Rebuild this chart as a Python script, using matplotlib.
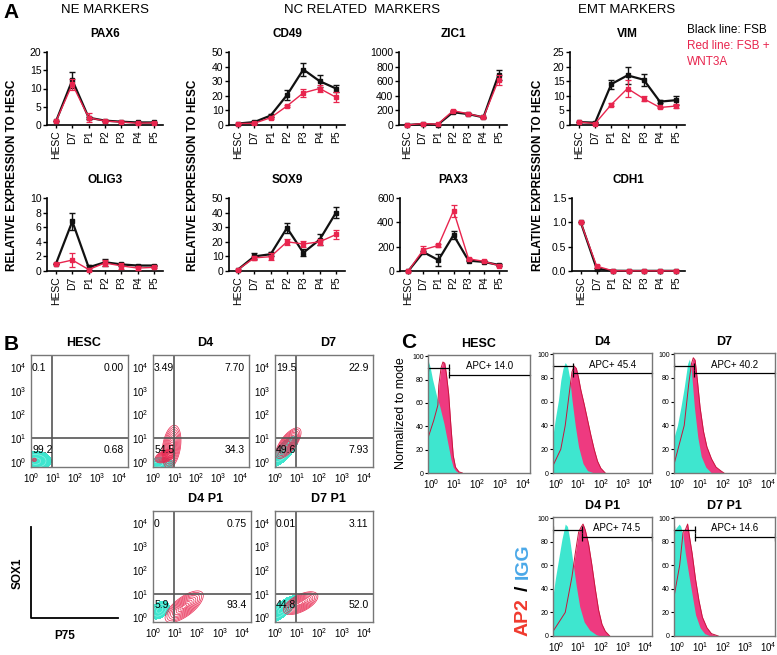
#------------------------------------------------------------------------------
#
# Re-drawing of a three panel figure: qPCR time courses (A), SOX1/P75 flow
# plots (B) and AP2/IGG histograms (C)
#
#------------------------------------------------------------------------------

import matplotlib.pyplot as plt
import numpy as np

plt.rcParams['font.family'] = ['Liberation Sans', 'DejaVu Sans']
plt.rcParams['mathtext.fontset'] = 'custom'
plt.rcParams['mathtext.rm'] = 'Liberation Sans'

W, H = 777, 655

BLACK = '#111111'
RED = '#e8254e'
CYAN = '#3ee6cf'
PINK = '#ee3a80'

#------------------------------------------------------------------------------
# Panel A data (relative expression to HESC)
#------------------------------------------------------------------------------
stages = ['HESC', 'D7', 'P1', 'P2', 'P3', 'P4', 'P5']

pax6_fsb = [1, 12.3, 2.0, 1.2, 0.9, 0.7, 0.7]
pax6_fsb_err = [0, 2.1, 0.3, 0.15, 0.1, 0.1, 0.1]
pax6_wnt = [1, 11.2, 2.0, 1.1, 0.8, 0.5, 0.6]
pax6_wnt_err = [0, 1.5, 1.3, 0.15, 0.1, 0.15, 0.15]

olig3_fsb = [1, 6.8, 0.5, 1.2, 0.9, 0.75, 0.75]
olig3_fsb_err = [0, 1.2, 0.3, 0.5, 0.2, 0.1, 0.1]
olig3_wnt = [1, 1.5, 0.2, 1.1, 0.7, 0.4, 0.5]
olig3_wnt_err = [0.05, 1.0, 0.2, 0.35, 0.4, 0.3, 0.15]

cd49_fsb = [1, 2.0, 6.5, 20.5, 38, 30, 25]
cd49_fsb_err = [0, 0.5, 1.0, 3.5, 4.5, 4.0, 2.5]
cd49_wnt = [1, 1.2, 5.0, 13, 22, 25, 19]
cd49_wnt_err = [0, 0.3, 0.8, 1.0, 2.5, 2.5, 3.5]

sox9_fsb = [1, 10, 11.5, 29.5, 12.5, 21.5, 40]
sox9_fsb_err = [0, 2, 1.5, 3.5, 2.3, 3.5, 4]
sox9_wnt = [1, 9, 9.8, 20, 18.5, 20, 25]
sox9_wnt_err = [0, 1.5, 2.2, 2.2, 2.2, 2.2, 2.8]

zic1_fsb = [0, 15, 5, 175, 150, 105, 690]
zic1_fsb_err = [0, 5, 3, 15, 10, 8, 70]
zic1_wnt = [0, 20, 10, 195, 155, 105, 620]
zic1_wnt_err = [0, 5, 3, 10, 10, 8, 68]

pax3_fsb = [0, 155, 90, 295, 85, 75, 50]
pax3_fsb_err = [0, 10, 50, 33, 5, 5, 8]
pax3_wnt = [0, 175, 210, 495, 100, 80, 45]
pax3_wnt_err = [0, 30, 12, 50, 10, 8, 8]

vim_fsb = [1, 0.8, 14, 17, 15.5, 8, 8.5]
vim_fsb_err = [0, 0.1, 1.5, 2.8, 2.0, 0.6, 1.5]
vim_wnt = [1, 0.5, 7, 12.5, 9, 6, 6.5]
vim_wnt_err = [0, 0.1, 0.4, 2.8, 0.9, 0.3, 0.7]

cdh1_fsb = [1, 0.05, 0.005, 0.003, 0.003, 0.003, 0.003]
cdh1_fsb_err = [0, 0.02, 0, 0, 0, 0, 0]
cdh1_wnt = [1, 0.1, 0.005, 0.003, 0.003, 0.003, 0.003]
cdh1_wnt_err = [0, 0.03, 0, 0, 0, 0, 0]

#------------------------------------------------------------------------------
# Panel B data: quadrant percentages and populations (in log10 decades)
#------------------------------------------------------------------------------
flow_samples = ['HESC', 'D4', 'D7', 'D4 P1', 'D7 P1']
flow_quadrants = [['0.1', '0.00', '99.2', '0.68'],
                  ['3.49', '7.70', '54.5', '34.3'],
                  ['19.5', '22.9', '49.6', '7.93'],
                  ['0', '0.75', '5.9', '93.4'],
                  ['0.01', '3.11', '44.8', '52.0']]
# centre x, centre y, major spread, minor spread, angle (deg)
igg_pops = [(0.2, 0.05, 0.3, 0.17, 0),
            (0.2, -0.1, 0.3, 0.12, 5),
            (0.4, 0.45, 0.35, 0.13, 45),
            (0.3, 0.3, 0.2, 0.13, 35),
            (0.35, 0.35, 0.33, 0.12, 40)]
stain_pops = [[(0.15, 0.1, 0.04, 0.03, 0)],
              [(0.85, 0.65, 0.38, 0.17, 80), (0.55, 0.25, 0.2, 0.1, 20)],
              [(0.6, 0.8, 0.33, 0.14, 50)],
              [(1.4, 0.45, 0.42, 0.17, 35)],
              [(1.15, 0.6, 0.35, 0.15, 25)]]

#------------------------------------------------------------------------------
# Panel C data: histograms (x in log10 decades, y % of mode)
#------------------------------------------------------------------------------
hist_samples = ['HESC', 'D4', 'D7', 'D4 P1', 'D7 P1']
apc_labels = ['APC+ 14.0', 'APC+ 45.4', 'APC+ 40.2', 'APC+ 74.5', 'APC+ 14.6']
gate_split = [0.75, 0.73, 0.75, 1.15, 0.76]

igg_x = [[-0.15, -0.05, 0.05, 0.15, 0.25, 0.35, 0.45, 0.55, 0.65, 0.75, 0.85, 0.95, 1.05, 1.2],
         [-0.18, -0.05, 0.1, 0.2, 0.3, 0.4, 0.5, 0.6, 0.7, 0.85, 1.0, 1.2, 1.4, 1.7],
         [-0.18, 0.0, 0.15, 0.3, 0.45, 0.53, 0.62, 0.75, 0.9, 1.05, 1.25, 1.5],
         [-0.18, -0.05, 0.1, 0.25, 0.4, 0.5, 0.6, 0.75, 0.9, 1.05, 1.25, 1.5, 1.8, 2.0],
         [-0.18, -0.05, 0.08, 0.15, 0.25, 0.35, 0.5, 0.65, 0.8, 1.0, 1.2, 1.45]]
igg_y = [[97, 90, 80, 72, 64, 58, 50, 42, 32, 22, 12, 5, 2, 0],
         [28, 45, 62, 78, 88, 93, 90, 80, 62, 40, 22, 8, 2, 0],
         [28, 40, 55, 72, 92, 96, 85, 55, 30, 14, 5, 0],
         [30, 48, 65, 82, 95, 93, 82, 62, 42, 25, 12, 5, 1, 0],
         [88, 92, 95, 93, 85, 70, 52, 35, 18, 7, 2, 0]]
ap2_x = [[-0.15, 0.1, 0.28, 0.32, 0.42, 0.5, 0.58, 0.65, 0.75, 0.85, 0.95, 1.05, 1.2, 1.35],
         [-0.18, 0.2, 0.4, 0.6, 0.7, 0.8, 0.9, 1.0, 1.1, 1.25, 1.4, 1.55, 1.7, 1.85, 2.0, 2.2],
         [-0.18, 0.3, 0.5, 0.62, 0.7, 0.78, 0.88, 1.0, 1.15, 1.3, 1.5, 1.7, 1.9, 2.05],
         [-0.18, 0.4, 0.7, 0.85, 1.0, 1.1, 1.2, 1.3, 1.45, 1.6, 1.75, 1.9, 2.05, 2.2, 2.4],
         [-0.18, 0.1, 0.25, 0.35, 0.45, 0.55, 0.65, 0.8, 0.95, 1.1, 1.3, 1.5, 1.8]]
ap2_y = [[30, 45, 58, 75, 90, 95, 94, 85, 68, 40, 15, 5, 1, 0],
         [5, 20, 40, 70, 85, 90, 88, 80, 70, 58, 45, 32, 20, 10, 4, 0],
         [5, 40, 75, 92, 97, 95, 78, 55, 35, 22, 12, 5, 2, 0],
         [3, 20, 50, 70, 88, 92, 95, 90, 78, 60, 40, 22, 10, 4, 0],
         [30, 60, 88, 90, 95, 82, 70, 48, 30, 16, 7, 2, 0]]


#------------------------------------------------------------------------------
def add_ax(fig, left, top, right, bottom):
    # axes placed by pixel box (left, top, right, bottom)
    return fig.add_axes([left / W, 1 - bottom / H, (right - left) / W, (bottom - top) / H])


def ftext(fig, x, y, s, **kw):
    fig.text(x / W, 1 - y / H, s, **kw)


#------------------------------------------------------------------------------
def draw_line_panel(ax, fsb, fsb_err, wnt, wnt_err, ymax, yticks, fmt=None):
    x = np.arange(len(stages))
    ax.errorbar(x, fsb, yerr=fsb_err, color=BLACK, lw=1.6, marker='s', ms=3,
                capsize=2, elinewidth=1.0, capthick=1.0, zorder=3, clip_on=False)
    ax.errorbar(x, wnt, yerr=wnt_err, color=RED, lw=1.0, marker='s', ms=3,
                capsize=2, elinewidth=0.9, capthick=0.9, zorder=4, clip_on=False)
    ax.set_xlim(-0.55, 6.55)
    ax.set_ylim(0, ymax)
    ax.set_xticks(x)
    ax.set_xticklabels(stages, rotation=90, fontsize=7.5)
    ax.set_yticks(yticks)
    if fmt:
        ax.set_yticklabels([fmt.format(v) for v in yticks])
    ax.tick_params(axis='y', labelsize=7.5, length=3, width=1, pad=1)
    ax.tick_params(axis='x', length=2.5, width=1, pad=1.5)
    for side in ['top', 'right']:
        ax.spines[side].set_visible(False)
    for side in ['left', 'bottom']:
        ax.spines[side].set_linewidth(1.2)


#------------------------------------------------------------------------------
def draw_population(ax, pop, color, filled, n_levels=10):
    cx, cy, s_major, s_minor, angle = pop
    gx, gy = np.meshgrid(np.linspace(-1, 5, 300), np.linspace(-1, 5, 300))
    a = np.deg2rad(angle)
    dx, dy = gx - cx, gy - cy
    u = (dx * np.cos(a) + dy * np.sin(a)) / s_major
    v = (-dx * np.sin(a) + dy * np.cos(a)) / s_minor
    r = np.sqrt(u ** 2 + v ** 2)
    if filled:
        ax.contourf(gx, gy, r, levels=[0, 2.4], colors=[color])
        ax.contour(gx, gy, r, levels=[0.8, 1.6], colors='#9ff3e6', linewidths=0.4)
    else:
        ax.contour(gx, gy, r, levels=np.linspace(0.3, 2.4, n_levels), colors=color,
                   linewidths=0.5)


def draw_flow_panel(ax, i):
    draw_population(ax, igg_pops[i], CYAN, True)
    for pop in stain_pops[i]:
        # HESC barely has any stained events
        draw_population(ax, pop, RED, False, 3 if i == 0 else 10)
    ax.set_xlim(0, 4.4)
    ax.set_ylim(-0.2, 4.5)
    ax.axvline(0.95, color='#555555', lw=1.2)
    ax.axhline(1.0, color='#555555', lw=1.2)
    dec = [0, 1, 2, 3, 4]
    labels = [f'$10^{{{d}}}$' for d in dec]
    ax.set_xticks(dec)
    ax.set_xticklabels(labels)
    ax.set_yticks(dec)
    ax.set_yticklabels(labels)
    ax.tick_params(length=0, labelsize=7, pad=3)
    for sp in ax.spines.values():
        sp.set_color('#777777')
        sp.set_linewidth(1.0)
    q = flow_quadrants[i]
    ax.text(0.05, 3.95, q[0], fontsize=7.5, ha='left', va='center')
    ax.text(4.2, 3.95, q[1], fontsize=7.5, ha='right', va='center')
    ax.text(0.05, 0.5, q[2], fontsize=7.5, ha='left', va='center')
    ax.text(4.2, 0.5, q[3], fontsize=7.5, ha='right', va='center')


#------------------------------------------------------------------------------
def draw_hist_panel(ax, i):
    ax.fill_between(ap2_x[i], ap2_y[i], 0, color=PINK, lw=0)
    ax.plot(ap2_x[i], ap2_y[i], color='#c8143c', lw=0.7)
    ax.fill_between(igg_x[i], igg_y[i], 0, color=CYAN, lw=0)
    x0, x1 = -0.15, 4.3
    ax.set_xlim(x0, x1)
    ax.set_ylim(0, 101)
    # gate bars
    s = gate_split[i]
    ax.plot([x0, s], [90, 90], color='black', lw=0.9, clip_on=False)
    ax.vlines([x0 + 0.02, s], 87, 93, color='black', lw=0.9)
    ax.plot([s, x1], [84, 84], color='black', lw=0.9, clip_on=False)
    ax.vlines([s, x1 - 0.02], 81, 87, color='black', lw=0.9)
    ax.text((s + x1) / 2, 87, apc_labels[i], fontsize=7, ha='center', va='bottom')
    dec = [0, 1, 2, 3, 4]
    ax.set_xticks(dec)
    ax.set_xticklabels([f'$10^{{{d}}}$' for d in dec])
    ax.set_yticks([0, 20, 40, 60, 80, 100])
    ax.tick_params(axis='x', length=0, labelsize=7, pad=3)
    ax.tick_params(axis='y', length=2, labelsize=5, pad=1)
    for sp in ax.spines.values():
        sp.set_color('#777777')
        sp.set_linewidth(1.0)


#------------------------------------------------------------------------------
def main() -> None:
    fig = plt.figure(figsize=(W / 100, H / 100), dpi=100)

    # ---------------- Panel A ----------------
    ftext(fig, 11, 13, 'A', fontsize=15, fontweight='bold', ha='center', va='center')
    ftext(fig, 105, 10, 'NE MARKERS', fontsize=9.5, ha='center', va='center')
    ftext(fig, 362, 10, 'NC RELATED  MARKERS', fontsize=9.5, ha='center', va='center')
    ftext(fig, 627, 10, 'EMT MARKERS', fontsize=9.5, ha='center', va='center')
    ftext(fig, 687, 30, 'Black line: FSB', fontsize=8.5, color='black', va='center')
    ftext(fig, 687, 46, 'Red line: FSB +', fontsize=8.5, color=RED, va='center')
    ftext(fig, 687, 62, 'WNT3A', fontsize=8.5, color=RED, va='center')

    for x in [12, 193, 538]:
        ftext(fig, x, 175, 'RELATIVE EXPRESSION TO HESC', fontsize=8.5,
              fontweight='bold', rotation=90, ha='center', va='center')

    panels = [
        ('PAX6', (47, 52, 163, 125), pax6_fsb, pax6_fsb_err, pax6_wnt, pax6_wnt_err, 20, range(0, 21, 5), None),
        ('CD49', (229, 52, 345, 125), cd49_fsb, cd49_fsb_err, cd49_wnt, cd49_wnt_err, 50, range(0, 51, 10), None),
        ('ZIC1', (399, 52, 507, 125), zic1_fsb, zic1_fsb_err, zic1_wnt, zic1_wnt_err, 1000, range(0, 1001, 200), None),
        ('VIM', (570, 52, 685, 125), vim_fsb, vim_fsb_err, vim_wnt, vim_wnt_err, 25, range(0, 26, 5), None),
        ('OLIG3', (47, 198, 163, 271), olig3_fsb, olig3_fsb_err, olig3_wnt, olig3_wnt_err, 10, range(0, 11, 2), None),
        ('SOX9', (229, 198, 345, 271), sox9_fsb, sox9_fsb_err, sox9_wnt, sox9_wnt_err, 50, range(0, 51, 10), None),
        ('PAX3', (400, 198, 507, 271), pax3_fsb, pax3_fsb_err, pax3_wnt, pax3_wnt_err, 600, range(0, 601, 200), None),
        ('CDH1', (572, 198, 685, 271), cdh1_fsb, cdh1_fsb_err, cdh1_wnt, cdh1_wnt_err, 1.5, [0, 0.5, 1.0, 1.5], '{:.1f}'),
    ]
    for name, box, f, fe, w, we, ymax, yt, fmt in panels:
        ax = add_ax(fig, *box)
        draw_line_panel(ax, f, fe, w, we, ymax, list(yt), fmt)
        ftext(fig, (box[0] + box[2]) / 2, box[1] - 18, name, fontsize=8.5,
              fontweight='bold', ha='center', va='center')

    # ---------------- Panel B ----------------
    ftext(fig, 11, 345, 'B', fontsize=15, fontweight='bold', ha='center', va='center')
    flow_boxes = [(31, 355, 128, 467), (153, 355, 249, 467), (275, 355, 373, 467),
                  (153, 511, 251, 622), (275, 511, 373, 622)]
    for i, box in enumerate(flow_boxes):
        ax = add_ax(fig, *box)
        draw_flow_panel(ax, i)
        ftext(fig, (box[0] + box[2]) / 2 + 4, box[1] - 12, flow_samples[i],
              fontsize=9, fontweight='bold', ha='center', va='center')

    # axis key for SOX1 / P75
    key = fig.add_axes([0, 0, 1, 1], facecolor='none')
    key.set_xlim(0, W)
    key.set_ylim(H, 0)
    key.axis('off')
    key.plot([31, 31, 118], [527, 618, 618], color='black', lw=1.3)
    key.text(18, 573, 'SOX1', fontsize=8.5, fontweight='bold', rotation=90,
             ha='center', va='center')
    key.text(65, 636, 'P75', fontsize=8.5, fontweight='bold', ha='center', va='center')

    # ---------------- Panel C ----------------
    ftext(fig, 409, 343, 'C', fontsize=15, fontweight='bold', ha='center', va='center')
    hist_boxes = [(428, 355, 530, 473), (553, 353, 652, 473), (674, 353, 775, 473),
                  (553, 517, 652, 636), (674, 517, 775, 636)]
    for i, box in enumerate(hist_boxes):
        ax = add_ax(fig, *box)
        draw_hist_panel(ax, i)
        ftext(fig, (box[0] + box[2]) / 2, box[1] - 11, hist_samples[i],
              fontsize=9, fontweight='bold', ha='center', va='center')

    ftext(fig, 401, 413, 'Normalized to mode', fontsize=9, rotation=90,
          ha='center', va='center')
    ftext(fig, 523, 617, 'AP2', fontsize=14, fontweight='bold', color='#f03a2e',
          rotation=90, ha='center', va='center')
    ftext(fig, 523, 588, '/', fontsize=14, fontweight='bold', color='black',
          rotation=90, ha='center', va='center')
    ftext(fig, 523, 561, 'IGG', fontsize=14, fontweight='bold', color='#4aa8e8',
          rotation=90, ha='center', va='center')

    fig.savefig('out.png', dpi=100)


#------------------------------------------------------------------------------
if __name__ == '__main__':
    main()
